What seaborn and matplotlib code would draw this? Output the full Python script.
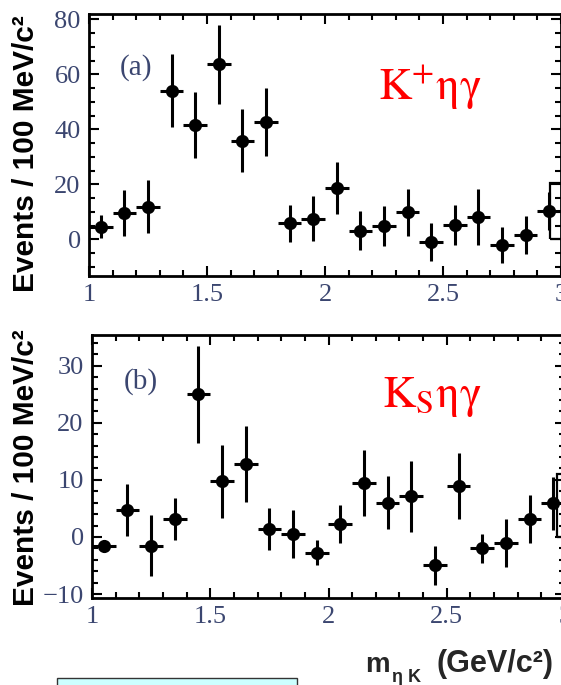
import matplotlib
matplotlib.use("Agg")
import matplotlib.pyplot as plt
from matplotlib.patches import Rectangle
from matplotlib.ticker import MultipleLocator
import numpy as np
import pandas as pd
import seaborn as sns

# eta-K invariant mass bin centres (GeV/c^2), 100 MeV bins
mass = [1.05, 1.15, 1.25, 1.35, 1.45, 1.55, 1.65, 1.75, 1.85, 1.95,
        2.05, 2.15, 2.25, 2.35, 2.45, 2.55, 2.65, 2.75, 2.85, 2.95]

# (a) K+ eta gamma yields and errors
kp_yield = [4.7, 9.5, 11.9, 54.1, 41.6, 63.7, 35.9, 42.8, 5.9, 7.5,
            18.6, 3.2, 4.9, 9.9, -1.0, 5.3, 8.1, -2.0, 1.6, 10.4]
kp_err = [4.2, 8.4, 9.7, 13.3, 12.1, 14.4, 11.5, 12.4, 6.8, 8.2,
          9.5, 7.2, 7.4, 8.5, 6.8, 7.4, 10.2, 6.7, 6.9, 7.0]

# (b) K_S eta gamma yields and errors
ks_yield = [-1.5, 4.7, -1.5, 3.1, 25.0, 9.8, 12.8, 1.4, 0.5, -2.8,
            2.3, 9.5, 6.0, 7.1, -5.0, 9.0, -2.0, -1.1, 3.1, 5.9]
ks_err = [1.0, 4.5, 5.3, 3.7, 8.5, 6.4, 6.7, 3.7, 4.2, 2.2,
          3.3, 5.8, 4.6, 6.2, 3.4, 5.8, 2.6, 4.2, 4.2, 4.6]

# last-bin boxes (x0, y0, height)
kp_box = (2.955, 0.0, 20.6)
ks_box = (2.965, 0.0, 11.0)

x_ticks = [1, 1.5, 2, 2.5, 3]
x_ticklabels = ["1", "1.5", "2", "2.5", "3"]

sns.set_theme(style="ticks")
plt.rcParams["mathtext.fontset"] = "stix"
plt.rcParams["font.family"] = ["DejaVu Sans"]

W, H = 561, 685
fig = plt.figure(figsize=(W / 100, H / 100), dpi=100)
fig.patch.set_facecolor("white")

tick_color = "#3b4670"
serif = ["Liberation Serif", "DejaVu Serif"]
sans = ["Liberation Sans", "DejaVu Sans"]


def style_axes(ax, ylim, ymajor, yminor):
    ax.set_xlim(1, 3)
    ax.set_ylim(*ylim)
    ax.set_facecolor("white")
    ax.xaxis.set_major_locator(MultipleLocator(0.5))
    ax.xaxis.set_minor_locator(MultipleLocator(0.1))
    ax.yaxis.set_major_locator(MultipleLocator(ymajor))
    ax.yaxis.set_minor_locator(MultipleLocator(yminor))
    ax.set_xticks(x_ticks)
    ax.set_xticklabels(x_ticklabels)
    ax.tick_params(which="both", direction="in", top=True, right=True,
                   color="black", width=1.5)
    ax.tick_params(which="major", length=7.5)
    ax.tick_params(which="minor", length=4.2)
    ax.tick_params(axis="both", which="major", labelsize=19,
                   labelcolor=tick_color, pad=6)
    for lab in ax.get_xticklabels() + ax.get_yticklabels():
        lab.set_fontfamily(serif)
    for sp in ax.spines.values():
        sp.set_linewidth(2.0)
        sp.set_color("black")
    ax.set_xlabel("")
    ax.set_ylabel("")


def draw_panel(ax, yields, errs, box):
    df = pd.DataFrame({"mass": mass, "events": yields, "err": errs})
    ax.errorbar(df["mass"], df["events"], yerr=df["err"], xerr=0.05,
                fmt="none", ecolor="black", elinewidth=2.2, capsize=0,
                zorder=2)
    sns.scatterplot(data=df, x="mass", y="events", ax=ax, color="black",
                    s=90, edgecolor="black", linewidth=0, zorder=3,
                    legend=False)
    x0, y0, h = box
    ax.add_patch(Rectangle((x0, y0), 0.2, h, fill=False, edgecolor="black",
                           linewidth=1.6, zorder=4))


ax_a = fig.add_axes([89 / W, 1 - 276 / H, 472 / W, 262 / H])
draw_panel(ax_a, kp_yield, kp_err, kp_box)
style_axes(ax_a, (-13.3, 82.0), 20, 5)
ax_a.text(1.2, 62.7, "(a)", fontsize=21, family=serif, color=tick_color,
          ha="center", va="center")
ax_a.text(2.226, 50.7, r"$\mathrm{K^{+}ηγ}$", fontsize=33, color="red",
          ha="left", va="baseline")

ax_b = fig.add_axes([92 / W, 1 - 598 / H, 473 / W, 263 / H])
draw_panel(ax_b, ks_yield, ks_err, ks_box)
style_axes(ax_b, (-10.7, 35.4), 10, 2)
ax_b.text(1.207, 27.2, "(b)", fontsize=21, family=serif, color=tick_color,
          ha="center", va="center")
ax_b.text(2.225, 22.8, r"$\mathrm{K_{S}ηγ}$", fontsize=33, color="red",
          ha="left", va="baseline")

# y-axis titles
for yc in (154, 468):
    fig.text(26 / W, 1 - yc / H, "Events / 100 MeV/c²", rotation=90,
             fontsize=21.5, fontweight="bold", family=sans, color="black",
             ha="center", va="center")

# x-axis title: m_{eta K} (GeV/c^2)
fig.text(365 / W, 1 - 672 / H, "m", fontsize=20, fontweight="bold",
         family=sans, ha="left", va="baseline")
fig.text(392 / W, 1 - 682 / H, "η K", fontsize=13, fontweight="bold",
         family=sans, ha="left", va="baseline")
fig.text(437 / W, 1 - 672 / H, "(GeV/c²)", fontsize=22, fontweight="bold",
         family=sans, ha="left", va="baseline")

# caption box at the foot
fig.patches.append(Rectangle((57 / W, -0.02), 240 / W, 0.02 + (H - 678) / H,
                             transform=fig.transFigure, facecolor="#ccffff",
                             edgecolor="#333333", linewidth=1.0))

fig.savefig("out.png", dpi=100, facecolor="white")
